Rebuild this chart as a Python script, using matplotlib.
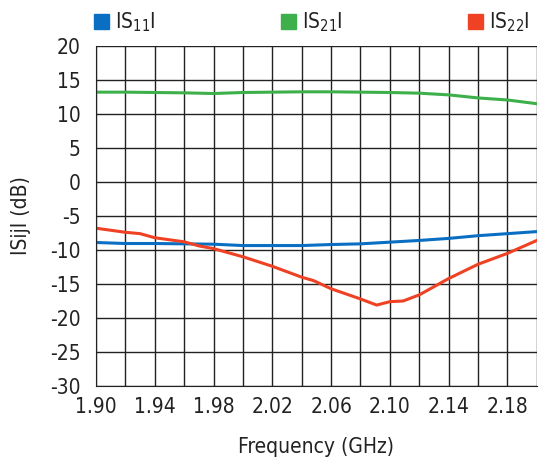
import matplotlib
matplotlib.use("Agg")
import matplotlib.pyplot as plt
import numpy as np
from matplotlib.patches import Patch

plt.rcParams["font.family"] = ["DejaVu Sans"]
plt.rcParams["font.stretch"] = "condensed"
plt.rcParams["axes.unicode_minus"] = False
plt.rcParams["mathtext.fontset"] = "custom"
plt.rcParams["mathtext.rm"] = "DejaVu Sans:stretch=condensed"
plt.rcParams["mathtext.it"] = "DejaVu Sans:stretch=condensed"

freq = [1.90, 1.92, 1.94, 1.96, 1.98, 2.00, 2.02, 2.04, 2.06, 2.08,
        2.10, 2.12, 2.14, 2.16, 2.18, 2.20]
s11 = [-8.9, -9.05, -9.05, -9.1, -9.15, -9.35, -9.35, -9.35, -9.2, -9.1,
       -8.85, -8.6, -8.3, -7.9, -7.6, -7.3]
s21 = [13.2, 13.2, 13.15, 13.1, 13.0, 13.15, 13.2, 13.25, 13.25, 13.2,
       13.15, 13.05, 12.8, 12.35, 12.05, 11.5]
# S22 has a few extra points around the dip
freq22 = [1.90, 1.92, 1.93, 1.94, 1.96, 1.97, 1.98, 2.00, 2.02, 2.04, 2.048,
          2.06, 2.08, 2.091, 2.10, 2.109, 2.12, 2.14, 2.16, 2.18, 2.20]
s22 = [-6.8, -7.4, -7.6, -8.2, -8.8, -9.4, -9.8, -11.0, -12.4, -14.0, -14.5,
       -15.7, -17.2, -18.1, -17.6, -17.5, -16.6, -14.2, -12.1, -10.5, -8.6]

labels = [r"IS$_{11}$I", r"IS$_{21}$I", r"IS$_{22}$I"]
colors = ["#0a6fc2", "#3db04b", "#ef4124"]
xticks = np.arange(1.90, 2.201, 0.02)

fig = plt.figure(figsize=(5.39, 4.59), dpi=100)
ax = fig.add_axes([0.178, 0.159, 0.818, 0.741])

ax.plot(freq, s11, color=colors[0], lw=2.2)
ax.plot(freq, s21, color=colors[1], lw=2.2)
ax.plot(freq22, s22, color=colors[2], lw=2.2)

ax.set_xlim(1.90, 2.20)
ax.set_ylim(-30, 20)
ax.set_xticks(xticks)
ax.set_xticklabels(["%.2f" % f if i % 2 == 0 else "" for i, f in enumerate(xticks)])
ax.set_yticks(range(-30, 21, 5))
ax.grid(True, color="#222222", lw=1.0)
ax.tick_params(axis="x", length=0, labelsize=15, pad=8, labelcolor="#222222")
ax.tick_params(axis="y", length=0, labelsize=15, pad=11, labelcolor="#222222")
for side in ["top", "right"]:
    ax.spines[side].set_visible(False)
for side in ["left", "bottom"]:
    ax.spines[side].set_color("#222222")
ax.set_axisbelow(True)

ax.set_xlabel("Frequency (GHz)", fontsize=15, labelpad=14, color="#222222")
ax.set_ylabel("ISijI (dB)", fontsize=15, labelpad=14, color="#222222")

ax.legend(handles=[Patch(color=c, label=l) for c, l in zip(colors, labels)],
          loc="lower left", bbox_to_anchor=(-0.03, 1.0, 1.04, 0.1),
          ncol=3, mode="expand", frameon=False, fontsize=15,
          handlelength=0.7, handleheight=0.7, handletextpad=0.3,
          borderaxespad=0.15, labelcolor="#222222")

fig.savefig("out.png", dpi=100)
